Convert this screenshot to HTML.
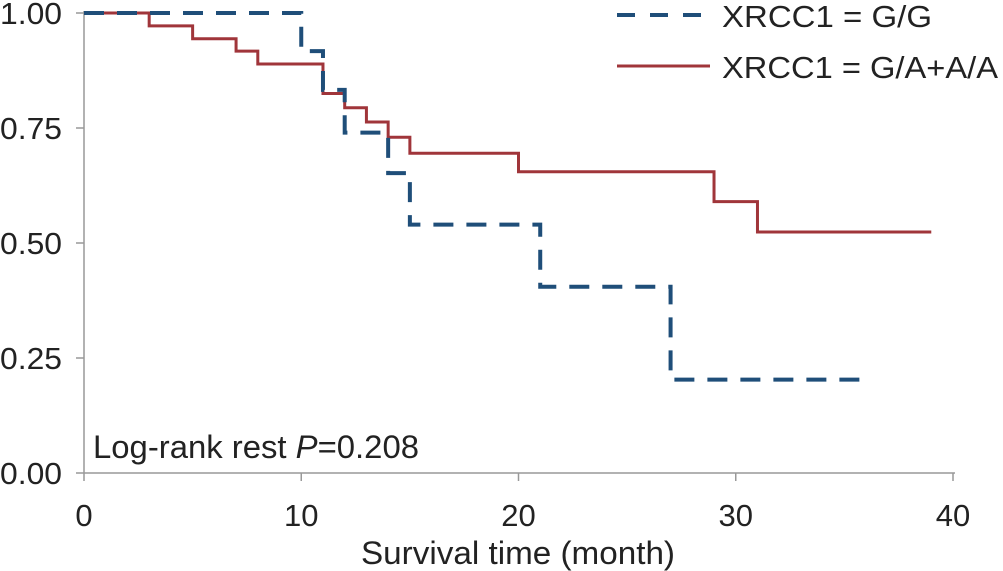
<!DOCTYPE html>
<html><head><meta charset="utf-8"><style>
body{margin:0;background:#fff}
svg{display:block;font-family:"Liberation Sans",Arial,sans-serif}
</style></head><body>
<svg id="chart" width="1003" height="571">
<g id="axes"></g><g id="series"></g>
<text x="93" y="458" font-size="32" fill="#222" textLength="326" lengthAdjust="spacingAndGlyphs">Log-rank rest <tspan font-style="italic">P</tspan>=0.208</text>
<text x="518" y="564" font-size="32" fill="#222" text-anchor="middle" textLength="314" lengthAdjust="spacingAndGlyphs">Survival time (month)</text>
<g>
<line x1="617" y1="15" x2="710" y2="15" stroke="#1f4e79" stroke-width="4" stroke-dasharray="18,15"/>
<text x="722" y="27" font-size="31" fill="#222" textLength="210" lengthAdjust="spacingAndGlyphs">XRCC1 = G/G</text>
<line x1="617" y1="66" x2="710" y2="66" stroke="#a0353a" stroke-width="3"/>
<text x="722" y="78" font-size="31" fill="#222" textLength="276" lengthAdjust="spacingAndGlyphs">XRCC1 = G/A+A/A</text>
</g>
</svg>
<script>
const xTicks=[0,10,20,30,40];
const yTicks=[0,0.25,0.5,0.75,1];
const yTickLabels=["0.00","0.25","0.50","0.75","1.00"];
const ggTimes=[0,10,11,12,14,15,21,27,36];
const ggSurv=[1,0.917,0.833,0.74,0.652,0.54,0.405,0.203,0.203];
const gaTimes=[0,3,5,7,8,11,12,13,14,15,20,29,31,39];
const gaSurv=[1,0.972,0.944,0.917,0.889,0.825,0.794,0.763,0.73,0.695,0.655,0.59,0.524,0.524];
const X=t=>84+t*(953-84)/40, Y=s=>473-s*460;
const NS="http://www.w3.org/2000/svg";
const axes=document.getElementById('axes'), ser=document.getElementById('series');
function mk(tag,attrs,parent){const e=document.createElementNS(NS,tag);for(const k in attrs)e.setAttribute(k,attrs[k]);parent.appendChild(e);return e;}
let a=mk('line',{x1:84,y1:Y(1)-2,x2:84,y2:473,stroke:'#999','stroke-width':1.5},axes);


a=mk('line',{x1:84,y1:473,x2:955,y2:473,stroke:'#999','stroke-width':1.5},axes);


xTicks.forEach(t=>{
 const l=mk('line',{x1:X(t),y1:473,x2:X(t),y2:481,stroke:'#999','stroke-width':1.5},axes);
 
 
 const tx=mk('text',{x:X(t),y:526,'font-size':31,fill:'#222','text-anchor':'middle'},axes);tx.textContent=t;
 
 
});
yTicks.forEach((v,i)=>{
 const l=mk('line',{x1:76,y1:Y(v),x2:84,y2:Y(v),stroke:'#999','stroke-width':1.5},axes);
 
 
 const tx=mk('text',{x:62,y:Y(v)+11,'font-size':31,fill:'#222','text-anchor':'end',textLength:62,lengthAdjust:'spacingAndGlyphs'},axes);tx.textContent=yTickLabels[i];
 
 
});
function stepPath(ts,ss){let d='M'+X(ts[0])+','+Y(ss[0]);for(let i=1;i<ts.length;i++){d+=' H'+X(ts[i])+' V'+Y(ss[i]);}return d;}
let p=mk('path',{d:stepPath(gaTimes,gaSurv),fill:'none',stroke:'#a0353a','stroke-width':3},ser);


p=mk('path',{d:stepPath(ggTimes,ggSurv),fill:'none',stroke:'#1f4e79','stroke-width':4,'stroke-dasharray':'20,13'},ser);


</script>
</body></html>
